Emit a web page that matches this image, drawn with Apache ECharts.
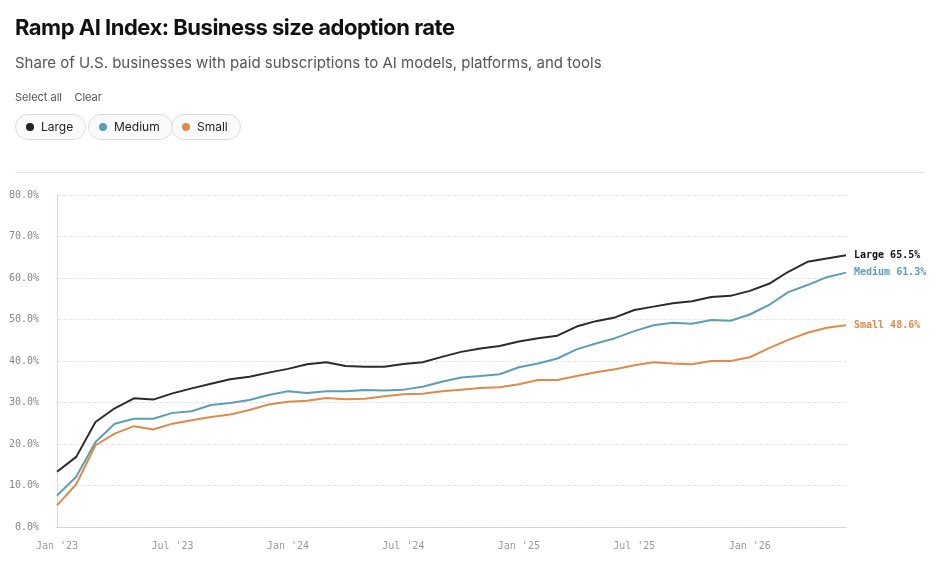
<!DOCTYPE html>
<html><head><meta charset="utf-8">
<script src="https://cdn.jsdelivr.net/npm/echarts@6/dist/echarts.min.js"></script>
<style>
body{margin:0;background:#fff;font-family:Inter,"Noto Sans",sans-serif;}
#wrap{position:relative;width:936px;height:571px;overflow:hidden}
#c{position:absolute;left:0;top:0;width:936px;height:571px}
.h{position:absolute;left:15px;white-space:nowrap}
.pill{position:absolute;top:114px;height:24px;border:1px solid #ddd;border-radius:13px;font-size:12px;color:#222;line-height:24px;padding:0 12px 0 10px;background:#fafafa}
.dot{display:inline-block;width:8px;height:8px;border-radius:50%;margin-right:7px;vertical-align:0px}
</style></head><body>
<div id="wrap">
<div id="c"></div>
<div class="h" style="top:14px;font-size:22px;font-weight:700;color:#111;letter-spacing:-0.5px">Ramp AI Index: Business size adoption rate</div>
<div class="h" style="top:53px;font-size:15px;color:#555">Share of U.S. businesses with paid subscriptions to AI models, platforms, and tools</div>
<div class="h" style="top:90px;font-size:11px;color:#555">Select all&nbsp;&nbsp;&nbsp;&nbsp;Clear</div>
<div class="pill" style="left:15px"><span class="dot" style="background:#222"></span>Large</div>
<div class="pill" style="left:88px"><span class="dot" style="background:#5b9eb5"></span>Medium</div>
<div class="pill" style="left:171px"><span class="dot" style="background:#e08a4a"></span>Small</div>
<div style="position:absolute;left:15px;top:172px;width:910px;height:1px;background:#e6e6e6"></div>
</div>
<script>
const months = ["2023-01","2023-02","2023-03","2023-04","2023-05","2023-06","2023-07","2023-08","2023-09","2023-10","2023-11","2023-12",
"2024-01","2024-02","2024-03","2024-04","2024-05","2024-06","2024-07","2024-08","2024-09","2024-10","2024-11","2024-12",
"2025-01","2025-02","2025-03","2025-04","2025-05","2025-06","2025-07","2025-08","2025-09","2025-10","2025-11","2025-12",
"2026-01","2026-02","2026-03","2026-04","2026-05","2026-06"];
const large = [13.3,16.9,25.3,28.6,31.0,30.7,32.2,33.4,34.5,35.6,36.2,37.2,38.1,39.2,39.7,38.8,38.6,38.6,39.3,39.7,41.0,42.2,43.0,43.6,44.7,45.5,46.1,48.3,49.6,50.5,52.3,53.1,53.9,54.4,55.4,55.7,56.9,58.6,61.5,63.9,64.7,65.5];
const medium = [7.6,12.1,20.5,24.9,26.1,26.1,27.5,27.9,29.4,29.9,30.6,31.8,32.7,32.3,32.7,32.7,33.0,32.9,33.1,33.8,35.0,36.0,36.4,36.8,38.5,39.4,40.6,42.8,44.2,45.5,47.2,48.6,49.2,49.0,49.9,49.7,51.2,53.5,56.6,58.3,60.2,61.3];
const small = [5.2,10.3,19.7,22.5,24.3,23.5,24.9,25.7,26.5,27.1,28.2,29.5,30.2,30.4,31.1,30.8,30.9,31.5,32.0,32.1,32.7,33.1,33.5,33.7,34.4,35.4,35.4,36.4,37.3,38.0,39.0,39.7,39.4,39.2,40.0,40.0,40.9,43.1,45.1,46.8,48.0,48.6];
const seriesNames = ["Large","Medium","Small"];
const colors = ["#2b2b2b","#5b9eb5","#e08a4a"];
const monthNames = ["Jan","Feb","Mar","Apr","May","Jun","Jul","Aug","Sep","Oct","Nov","Dec"];
const mono = "'DejaVu Sans Mono', monospace";
const chart = echarts.init(document.getElementById('c'));
const mk = (name, data, color) => ({
  name, type:'line', data, showSymbol:false, symbol:'none',
  lineStyle:{width:2,color}, itemStyle:{color},
  endLabel:{show:true, distance:8, fontFamily:mono, fontSize:10, fontWeight:'bold', color: color==="#2b2b2b"?"#111":color,
    formatter: p => name + ' ' + p.value.toFixed(1) + '%'}
});
chart.setOption({
  animation:false,
  grid:{left:57,right:90,top:195,bottom:44,containLabel:false},
  xAxis:{type:'category',data:months,boundaryGap:false,
    axisLine:{lineStyle:{color:'#ccc',type:'dotted'}},axisTick:{show:false},
    axisLabel:{interval:(i)=>i%6===0,fontFamily:mono,fontSize:10,color:'#999',margin:14,
      formatter:v=>{const [y,m]=v.split('-');return monthNames[+m-1]+" '"+y.slice(2);}}},
  yAxis:{type:'value',min:0,max:80,interval:10,
    axisLine:{show:true,lineStyle:{color:'#e8c8b8',type:'dotted'}},
    splitLine:{lineStyle:{color:'#e6e6e6',type:'dashed'}},
    axisLabel:{fontFamily:mono,fontSize:10,color:'#888',margin:18,formatter:v=>v.toFixed(1)+'%'}},
  series:[mk(seriesNames[0],large,colors[0]),mk(seriesNames[1],medium,colors[1]),mk(seriesNames[2],small,colors[2])]
});
</script></body></html>
